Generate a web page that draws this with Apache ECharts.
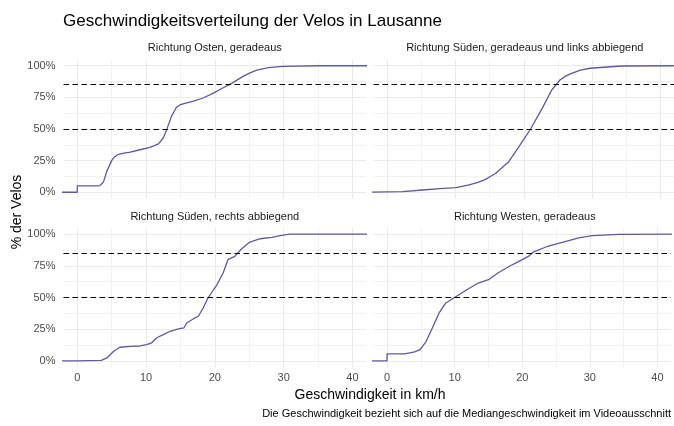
<!DOCTYPE html>
<html>
<head>
<meta charset="utf-8">
<script src="https://cdn.jsdelivr.net/npm/echarts@6/dist/echarts.min.js"></script>
<style>
  html, body { margin: 0; padding: 0; background: #fff; }
  #chart { width: 674px; height: 426px; }
</style>
</head>
<body>
<div id="chart"></div>
<script>
// Panel titles (one facet per direction)
const panelTitles = [
  'Richtung Osten, geradeaus',
  'Richtung Süden, geradeaus und links abbiegend',
  'Richtung Süden, rechts abbiegend',
  'Richtung Westen, geradeaus'
];

// Cumulative share of bikes (%) by median speed (km/h)
const ostSpeed = [-3, 0, 0, 2.8, 3.3, 3.8, 4.3, 5.0, 5.4, 6.0, 6.8, 7.7, 9.1, 10.6, 11.8, 12.5, 13.0, 13.7, 14.4, 14.9, 15.5, 16.9, 18.3, 19.8, 21.0, 22.2, 24.1, 25.2, 26.1, 27.8, 29.9, 35, 43];
const ostShare = [0, 0, 5, 5, 5.3, 8, 16.6, 25, 28, 30, 31, 31.8, 33.6, 35.5, 38.2, 42.9, 49.5, 60, 67, 69, 70, 72, 74.5, 78.4, 82, 85.3, 91.6, 94.5, 96.5, 98.5, 99.5, 100, 100];

const suedLinksSpeed = [-3, 0, 2.3, 5.2, 7.7, 10.1, 12.0, 13.3, 14.4, 15.9, 17.8, 19.3, 21.0, 22.7, 24.1, 25.3, 26.2, 27.0, 28.3, 29.7, 34.3, 43];
const suedLinksShare = [0, 0.3, 0.5, 1.8, 2.9, 3.7, 5.8, 7.8, 10.2, 15, 24.2, 36, 50, 66.3, 80.8, 88.7, 92, 94, 96.5, 98, 99.8, 100];

const suedRechtsSpeed = [-3, 0, 0, 3.5, 4.3, 5.3, 6.2, 7.7, 9.1, 10.1, 10.8, 11.5, 12.5, 13.5, 14.7, 15.5, 15.9, 16.9, 17.6, 18.3, 19.0, 19.8, 20.3, 21.2, 21.9, 22.9, 23.9, 25.1, 26.6, 28.3, 29.7, 30.9, 43];
const suedRechtsShare = [0, 0, 0.5, 0.5, 2.4, 7.6, 10.8, 11.5, 11.8, 12.9, 14.2, 18.1, 20.7, 23.4, 25.2, 26, 29.9, 33.3, 35.2, 41.7, 49.6, 56.1, 60, 69.3, 79.8, 82.4, 88.4, 93.7, 96.3, 97.4, 99, 100, 100];

const westSpeed = [-3, 0, 0, 2.6, 4.1, 4.9, 5.8, 6.7, 7.7, 8.7, 10.1, 11.8, 13.5, 15.0, 16.4, 18.1, 19.8, 20.9, 21.7, 23.6, 26.6, 28.5, 30.4, 34.3, 43];
const westShare = [0, 0, 5.5, 5.5, 7.1, 8.9, 15.5, 26, 37.8, 45.7, 50.4, 56.1, 61.4, 64, 69.3, 74.6, 79.3, 82.4, 86, 90, 94.5, 97.2, 98.7, 99.8, 100];

// Reference levels (dashed lines) in %
const refLevels = [50, 85];

// Tick labels
const speedTicks = [0, 10, 20, 30, 40];
const shareTicks = [0, 25, 50, 75, 100];

const panelSpeeds = [ostSpeed, suedLinksSpeed, suedRechtsSpeed, westSpeed];
const panelShares = [ostShare, suedLinksShare, suedRechtsShare, westShare];

const FONT = '"Liberation Sans", Arial, sans-serif';
const LINE_COLOR = '#5d59a2';
const T = 'rgba(0,0,0,0)';
const MAJ = '#ebebeb';
const MIN = '#f2f2f2';
// one grid line every 10 ticks (major) and a lighter one halfway (minor)
const gridCycle = [T, T, MAJ, T, T, T, T, MIN, T, T];

const panelW = 302.7;
const rects = [
  { left: 63.5,  top: 59.4,  width: panelW, height: 139.2 },
  { left: 373.5, top: 59.4,  width: panelW, height: 139.2 },
  { left: 63.5,  top: 227.7, width: panelW, height: 139.6 },
  { left: 373.5, top: 227.7, width: panelW, height: 139.6 }
];

const grid = rects.map(r => ({ left: r.left, top: r.top, width: r.width, height: r.height }));

const xAxis = rects.map((r, i) => ({
  type: 'value', gridIndex: i, min: -2, max: 42, interval: 1,
  axisLine: { show: false }, axisTick: { show: false },
  axisLabel: {
    show: i >= 2, margin: 5, color: '#4d4d4d', fontSize: 11, fontFamily: FONT,
    formatter: v => (speedTicks.indexOf(v) >= 0 ? String(v) : '')
  },
  splitLine: { show: true, lineStyle: { color: gridCycle, width: 1 } }
}));

const yAxis = rects.map((r, i) => ({
  type: 'value', gridIndex: i, min: -5, max: 105, interval: 2.5,
  axisLine: { show: false }, axisTick: { show: false },
  axisLabel: {
    show: i % 2 === 0, margin: 8, color: '#4d4d4d', fontSize: 11, fontFamily: FONT,
    formatter: v => (shareTicks.indexOf(v) >= 0 ? v + '%' : '')
  },
  splitLine: { show: true, lineStyle: { color: gridCycle, width: 1 } }
}));

const series = panelSpeeds.map((sp, i) => ({
  type: 'line', xAxisIndex: i, yAxisIndex: i,
  data: sp.map((x, k) => [x, panelShares[i][k]]),
  showSymbol: false, symbol: 'none', clip: true,
  lineStyle: { color: LINE_COLOR, width: 1.3 },
  markLine: {
    silent: true, symbol: 'none', label: { show: false },
    lineStyle: { color: '#000', type: [5.5, 3.5], width: 1.1 },
    data: refLevels.map(v => ({ yAxis: v }))
  },
  z: 2
}));

const texts = [];
texts.push({
  type: 'text', x: 63, y: 21,
  style: { text: 'Geschwindigkeitsverteilung der Velos in Lausanne', font: '17px ' + FONT,
           fill: '#000', align: 'left', verticalAlign: 'middle' }
});
panelTitles.forEach((t, i) => {
  const r = rects[i];
  texts.push({
    type: 'text', x: r.left + 151.3, y: i < 2 ? 48 : 217,
    style: { text: t, font: '11px ' + FONT, fill: '#1a1a1a', align: 'center', verticalAlign: 'middle' }
  });
});
texts.push({
  type: 'text', x: 370, y: 395,
  style: { text: 'Geschwindigkeit in km/h', font: '14px ' + FONT, fill: '#000',
           align: 'center', verticalAlign: 'middle' }
});
texts.push({
  type: 'text', x: 17, y: 212, rotation: Math.PI / 2,
  style: { text: '% der Velos', font: '14px ' + FONT, fill: '#000',
           align: 'center', verticalAlign: 'middle' }
});
texts.push({
  type: 'text', x: 671, y: 414,
  style: { text: 'Die Geschwindigkeit bezieht sich auf die Mediangeschwindigkeit im Videoausschnitt',
           font: '11px ' + FONT, fill: '#000', align: 'right', verticalAlign: 'middle' }
});

const chart = echarts.init(document.getElementById('chart'), null, { renderer: 'canvas' });
chart.setOption({
  animation: false,
  backgroundColor: '#fff',
  grid, xAxis, yAxis, series,
  graphic: texts
});
</script>
</body>
</html>
